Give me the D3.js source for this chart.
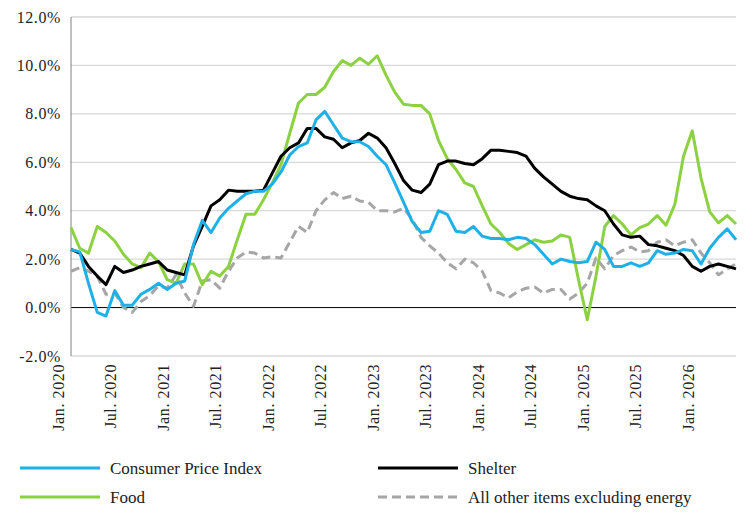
<!DOCTYPE html>
<html><head><meta charset="utf-8">
<script src="https://cdn.jsdelivr.net/npm/d3@7"></script>
<style>body{margin:0;background:#fff}text{font-family:"Liberation Serif","DejaVu Serif",serif}</style>
</head><body><svg id="chart" width="754" height="522"></svg>
<script>
// monthly values, Jan 2020 .. May 2026
var cpi = [2.4,2.3,1.0,-0.2,-0.35,0.7,0.1,0.1,0.55,0.75,1.0,0.75,1.0,1.1,2.6,3.6,3.1,3.7,4.1,4.4,4.7,4.8,4.8,5.1,5.6,6.3,6.65,6.8,7.75,8.1,7.55,7.0,6.85,6.85,6.65,6.25,5.9,5.15,4.35,3.55,3.1,3.15,4.0,3.85,3.15,3.1,3.35,2.95,2.85,2.85,2.8,2.9,2.85,2.6,2.2,1.8,2.0,1.9,1.85,1.9,2.7,2.4,1.7,1.7,1.85,1.7,1.85,2.35,2.2,2.25,2.4,2.35,1.8,2.45,2.9,3.25,2.8];
var shelter = [2.4,2.25,1.7,1.3,0.95,1.7,1.45,1.55,1.7,1.8,1.9,1.55,1.45,1.35,2.55,3.35,4.2,4.45,4.85,4.8,4.8,4.8,4.85,5.55,6.25,6.6,6.8,7.4,7.4,7.05,6.95,6.6,6.8,6.9,7.2,7.0,6.6,5.95,5.25,4.85,4.75,5.1,5.9,6.05,6.05,5.95,5.9,6.15,6.5,6.5,6.45,6.4,6.25,5.75,5.4,5.1,4.8,4.6,4.5,4.45,4.2,4.0,3.45,3.0,2.9,2.95,2.6,2.55,2.45,2.35,2.15,1.7,1.5,1.7,1.8,1.7,1.6];
var food = [3.3,2.45,2.25,3.35,3.1,2.75,2.2,1.8,1.65,2.25,1.9,1.15,1.0,1.8,1.8,0.95,1.5,1.3,1.7,2.8,3.85,3.85,4.45,5.15,5.9,7.2,8.45,8.8,8.8,9.1,9.75,10.2,10.0,10.3,10.05,10.4,9.6,8.9,8.4,8.35,8.35,8.0,6.9,6.15,5.7,5.15,5.0,4.2,3.45,3.1,2.65,2.4,2.6,2.8,2.7,2.75,3.0,2.9,1.15,-0.5,1.3,3.35,3.8,3.45,3.0,3.3,3.45,3.8,3.4,4.25,6.25,7.3,5.35,3.95,3.5,3.8,3.45];
var other = [1.5,1.65,1.5,1.3,0.55,0.6,0.0,-0.2,0.25,0.5,0.9,0.8,1.35,0.6,0.05,1.1,1.15,0.8,1.5,2.05,2.3,2.25,2.05,2.1,2.05,2.7,3.35,3.1,4.0,4.45,4.75,4.5,4.6,4.4,4.35,4.0,4.0,3.95,4.1,3.65,2.9,2.55,2.25,1.85,1.6,2.0,1.85,1.5,0.7,0.6,0.4,0.65,0.8,0.85,0.6,0.75,0.75,0.35,0.6,1.0,2.05,1.6,2.15,2.35,2.5,2.3,2.35,2.7,2.8,2.55,2.7,2.8,2.25,1.85,1.35,1.6,1.8];
var yTicks = [-2,0,2,4,6,8,10,12];
var xLabels = ["Jan. 2020","Jul. 2020","Jan. 2021","Jul. 2021","Jan. 2022","Jul. 2022","Jan. 2023","Jul. 2023","Jan. 2024","Jul. 2024","Jan. 2025","Jul. 2025","Jan. 2026"];

var svg = d3.select("#chart");
var x = d3.scaleLinear().domain([0, cpi.length - 1]).range([71, 736]);
var y = d3.scaleLinear().domain([-2, 12]).range([356, 17]);

// gridlines
svg.selectAll("line.grid").data(yTicks).enter().append("line")
    .attr("x1", 71).attr("x2", 736)
    .attr("y1", d => y(d)).attr("y2", d => y(d))
    .attr("stroke", d => d === 0 ? "#000" : "#d9d9d9")
    .attr("stroke-width", d => d === 0 ? 1 : 1.3);
svg.append("line").attr("x1", 71).attr("x2", 71).attr("y1", y(12)).attr("y2", y(-2))
    .attr("stroke", "#808080").attr("stroke-width", 1);

svg.selectAll("text.yt").data(yTicks).enter().append("text")
    .attr("x", 61).attr("y", d => y(d)).attr("dy", "0.35em")
    .attr("text-anchor", "end").attr("font-size", 16).attr("letter-spacing", 0.6).attr("fill", "#222")
    .text(d => d.toFixed(1) + "%");

xLabels.forEach(function (lab, k) {
    svg.append("text")
        .attr("transform", "translate(" + (x(k * 6) - 13) + ",364) rotate(-90)")
        .attr("text-anchor", "end").attr("dy", "0.35em")
        .attr("font-size", 16).attr("letter-spacing", 0.6).attr("fill", "#222").text(lab);
});

var line = d3.line().x((d, i) => x(i)).y(d => y(d));
var series = [
    {data: other, color: "#a6a6a6", dash: "9,5"},
    {data: food, color: "#8cd142", dash: null},
    {data: shelter, color: "#000000", dash: null},
    {data: cpi, color: "#1fb0e8", dash: null}
];
series.forEach(function (s) {
    svg.append("path").attr("d", line(s.data)).attr("fill", "none")
        .attr("stroke", s.color).attr("stroke-width", 3)
        .attr("stroke-linejoin", "round")
        .attr("stroke-dasharray", s.dash);
});

// legend
var legend = [
    {name: "Consumer Price Index", color: "#1fb0e8", dash: null, lx: 20, ly: 468},
    {name: "Shelter", color: "#000000", dash: null, lx: 378, ly: 468},
    {name: "Food", color: "#8cd142", dash: null, lx: 20, ly: 497},
    {name: "All other items excluding energy", color: "#a6a6a6", dash: "9,5", lx: 378, ly: 497}
];
legend.forEach(function (l) {
    svg.append("line").attr("x1", l.lx).attr("x2", l.lx + 80).attr("y1", l.ly).attr("y2", l.ly)
        .attr("stroke", l.color).attr("stroke-width", 3).attr("stroke-dasharray", l.dash);
    svg.append("text").attr("x", l.lx + 90).attr("y", l.ly).attr("dy", "0.35em")
        .attr("font-size", 17).attr("fill", "#222").text(l.name);
});
</script></body></html>
